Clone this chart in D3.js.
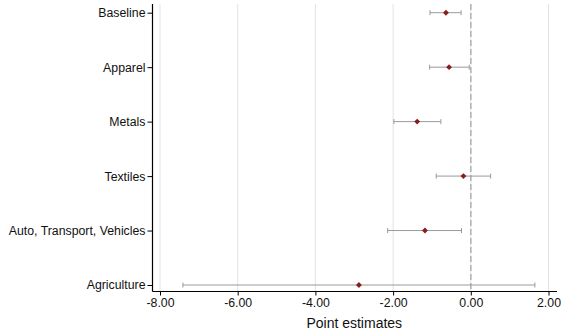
<!DOCTYPE html>
<html>
<head>
<meta charset="utf-8">
<script src="https://cdn.jsdelivr.net/npm/d3@7"></script>
<style>
  body { margin: 0; background: #fff; }
  svg { font-family: "Liberation Sans", Arial, sans-serif; }
</style>
</head>
<body>
<div id="chart"></div>
<script>
const categories = ["Baseline", "Apparel", "Metals", "Textiles", "Auto, Transport, Vehicles", "Agriculture"];
const estimates = [-0.64, -0.56, -1.38, -0.19, -1.18, -2.88];
const lower = [-1.05, -1.06, -1.98, -0.89, -2.14, -7.41];
const upper = [-0.25, -0.04, -0.77, 0.51, -0.24, 1.65];
const xTicks = [-8, -6, -4, -2, 0, 2];

const rows = categories.map((c, i) => ({ cat: c, est: estimates[i], lo: lower[i], hi: upper[i] }));

const W = 561, H = 336;
const svg = d3.select("#chart").append("svg").attr("width", W).attr("height", H);

const x = d3.scaleLinear().domain([-8, 2]).range([160, 548.5]);
const y = d3.scalePoint().domain(categories).range([12.7, 285]);

const plotLeft = 152.5, plotRight = 557, plotTop = 4, plotBottom = 291.5;

// grid
svg.append("g").selectAll("line").data(xTicks).join("line")
  .attr("x1", d => x(d)).attr("x2", d => x(d))
  .attr("y1", plotTop).attr("y2", plotBottom)
  .attr("stroke", "#e3e3e3").attr("stroke-width", 1);

// zero reference line
svg.append("line")
  .attr("x1", x(0)).attr("x2", x(0)).attr("y1", plotTop).attr("y2", plotBottom)
  .attr("stroke", "#b4b4b4").attr("stroke-width", 1.6).attr("stroke-dasharray", "6,3");

// x axis
const xAxis = svg.append("g").attr("transform", `translate(0,${plotBottom})`)
  .call(d3.axisBottom(x).tickValues(xTicks).tickFormat(d3.format(".2f")).tickSize(4).tickPadding(3));
xAxis.select(".domain").attr("d", `M${plotLeft},0H${plotRight}`).attr("stroke", "#000").attr("stroke-width", 1.2);
xAxis.selectAll("text").attr("font-size", 12.3).attr("fill", "#111")
  .text(d => d < 0 ? "-" + d3.format(".2f")(-d) : d3.format(".2f")(d));

// y axis
const yAxis = svg.append("g").attr("transform", `translate(${plotLeft},0)`)
  .call(d3.axisLeft(y).tickSize(5).tickPadding(2));
yAxis.select(".domain").attr("d", `M0,${plotTop}V${plotBottom}`).attr("stroke", "#000").attr("stroke-width", 1.2);
yAxis.selectAll("text").attr("font-size", 12.3).attr("fill", "#111");

// axis title
svg.append("text").attr("x", x(-3)).attr("y", 328).attr("text-anchor", "middle")
  .attr("font-size", 14).attr("fill", "#111").text("Point estimates");

// error bars
const eb = svg.append("g").selectAll("g").data(rows).join("g")
  .attr("stroke", "#9a9a9a").attr("stroke-width", 1);
eb.append("line").attr("x1", d => x(d.lo)).attr("x2", d => x(d.hi))
  .attr("y1", d => y(d.cat)).attr("y2", d => y(d.cat));
eb.append("line").attr("x1", d => x(d.lo)).attr("x2", d => x(d.lo))
  .attr("y1", d => y(d.cat) - 2.5).attr("y2", d => y(d.cat) + 2.5);
eb.append("line").attr("x1", d => x(d.hi)).attr("x2", d => x(d.hi))
  .attr("y1", d => y(d.cat) - 2.5).attr("y2", d => y(d.cat) + 2.5);

// point markers
svg.append("g").selectAll("path").data(rows).join("path")
  .attr("transform", d => `translate(${x(d.est)},${y(d.cat)})`)
  .attr("d", d3.symbol(d3.symbolDiamond2, 22))
  .attr("fill", "#8b1c1c");
</script>
</body>
</html>
